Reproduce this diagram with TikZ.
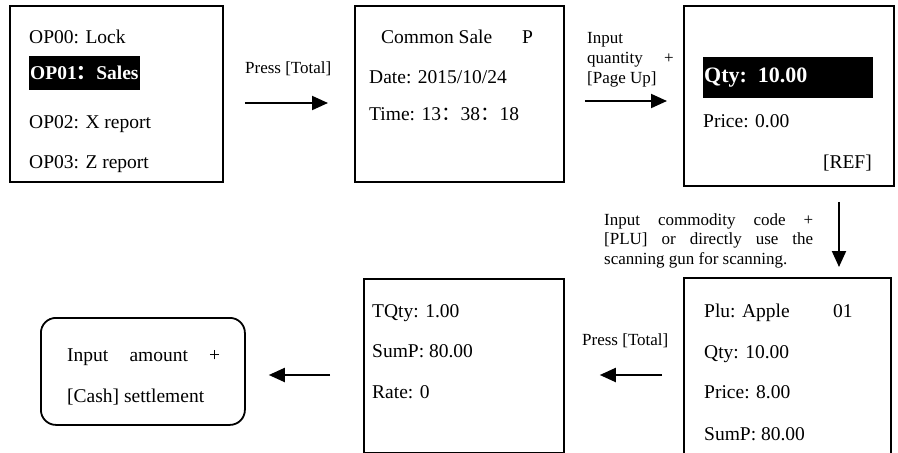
\documentclass[tikz,border=0pt]{standalone}
\usepackage{fontspec}
\setmainfont{Liberation Serif}
\newfontfamily\cjk{Noto Sans CJK SC}
\usetikzlibrary{arrows.meta}

\begin{document}
\begin{tikzpicture}[x=1pt, y=-1pt,
    screen/.style={draw, line width=1.8pt, inner sep=0pt, anchor=north west},
    txt/.style={anchor=base west, inner sep=0pt, font=\fontsize{19.5}{22}\selectfont},
    note/.style={anchor=base west, inner sep=0pt, font=\fontsize{17}{19}\selectfont},
    hl/.style={fill=black, text=white, inner xsep=1pt, inner ysep=0pt},
    flow/.style={line width=2pt, -{Triangle[length=16pt, width=14pt]}}]
  \clip (0,0) rectangle (898,453);
  \node[screen, minimum width=213pt, minimum height=176pt] (menu) at (9,5) {};
  \node[screen, minimum width=209pt, minimum height=176pt] (sale) at (354,5) {};
  \node[screen, minimum width=210pt, minimum height=180pt] (qty) at (683,5) {};
  \node[screen, minimum width=207pt, minimum height=200pt] (plu) at (683,277) {};
  \node[screen, minimum width=200pt, minimum height=174pt] (sum) at (363,278) {};
  \node[screen, rounded corners=15pt, minimum width=204pt, minimum height=107pt] (settle) at (40,317) {};

  \node[txt] (op0) at (29,43) {OP00: Lock};
  \node[hl, anchor=west, minimum height=34pt, font=\fontsize{19.5}{22}\selectfont\bfseries] (op1) at (29,73) {OP01{\cjk ：}Sales};
  \node[txt] (op2) at (29,128) {OP02: X report};
  \node[txt] (op3) at (29,168) {OP03: Z report};

  \node[txt] (sale1) at (381,43) {Common Sale};
  \node[txt] (saleP) at (522,43) {P};
  \node[txt] (sale2) at (369,83) {Date: 2015/10/24};
  \node[txt] (sale3) at (369,120) {Time: 13{\cjk ：}38{\cjk ：}18};

  \node[hl, anchor=north west, minimum height=41pt, text width=168pt, align=left, font=\fontsize{22}{24}\selectfont\bfseries] (qty1) at (703,57) {Qty: 10.00};
  \node[txt] (qty2) at (703,127) {Price: 0.00};
  \node[txt, anchor=base east] (qty3) at (872,168) {[REF]};

  \node[txt] (plu1) at (704,317) {Plu: Apple};
  \node[txt] (plu01) at (833,317) {01};
  \node[txt] (plu2) at (704,358) {Qty: 10.00};
  \node[txt] (plu3) at (704,398) {Price: 8.00};
  \node[txt] (plu4) at (704,440) {SumP: 80.00};

  \node[txt] (sum1) at (372,317) {TQty: 1.00};
  \node[txt] (sum2) at (372,357) {SumP: 80.00};
  \node[txt] (sum3) at (372,398) {Rate: 0};

  \node[txt] (set1) at (67,361) {\makebox[153pt][s]{Input amount +}};
  \node[txt] (set2) at (67,402) {[Cash] settlement};

  \node[note] (press1) at (245,73) {Press [Total]};
  \node[note] (inp1) at (587,43) {Input};
  \node[note] (inp2) at (587,63) {quantity};
  \node[note, anchor=base east] (inpplus) at (674,63) {+};
  \node[note] (inp3) at (587,83) {[Page Up]};
  \node[note] (code1) at (604,225) {\makebox[209pt][s]{Input commodity code +}};
  \node[note] (code2) at (604,244.5) {\makebox[209pt][s]{[PLU] or directly use the}};
  \node[note] (code3) at (604,264) {scanning gun for scanning.};
  \node[note] (press2) at (582,345) {Press [Total]};

  \draw[flow, shorten <=21pt, shorten >=26pt] (menu.east |- 0,103) -- (sale.west |- 0,103);
  \draw[flow, shorten <=20pt, shorten >=16pt] (sale.east |- 0,101) -- (qty.west |- 0,101);
  \draw[flow, shorten <=15pt, shorten >=10pt] (qty.south -| 839,0) -- (plu.north -| 839,0);
  \draw[flow, shorten <=21pt, shorten >=35pt] (plu.west |- 0,375) -- (sum.east |- 0,375);
  \draw[flow, shorten <=33pt, shorten >=23pt] (sum.west |- 0,375) -- (settle.east |- 0,375);
\end{tikzpicture}
\end{document}
